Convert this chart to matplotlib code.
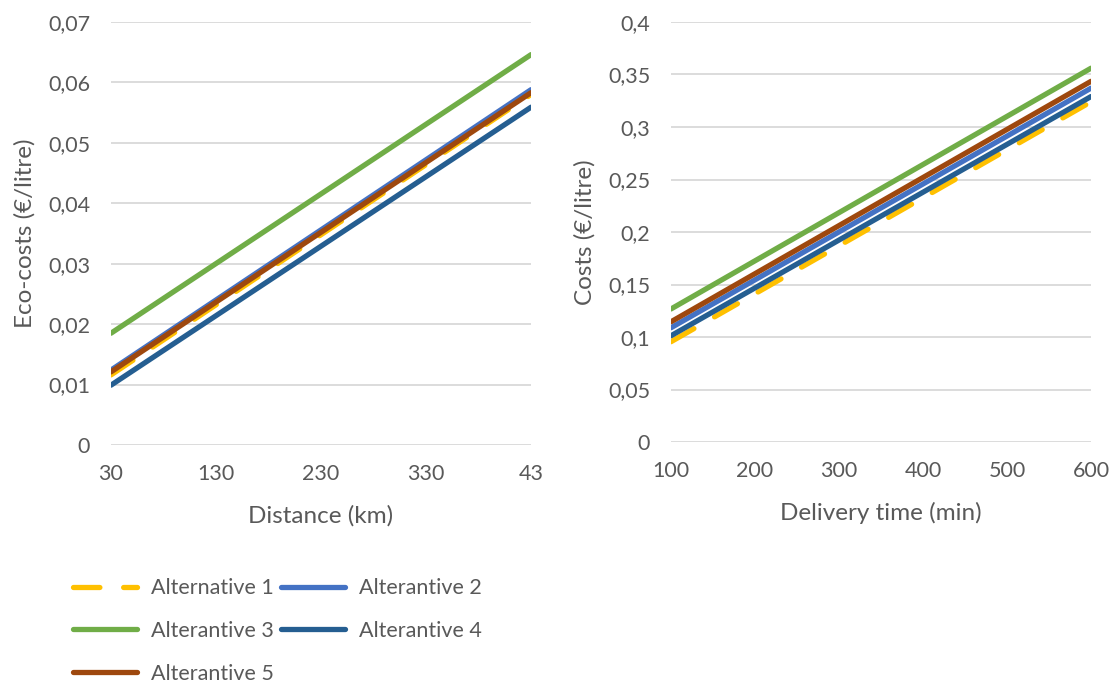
import numpy as np
import matplotlib.pyplot as plt
from matplotlib.ticker import FuncFormatter

plt.rcParams['font.family'] = ['Lato', 'DejaVu Sans']

names = ['Alternative 1', 'Alterantive 2', 'Alterantive 3', 'Alterantive 4', 'Alterantive 5']
colors = ['#FFC000', '#4472C4', '#70AD47', '#255E91', '#9E480E']

# left: eco-costs vs distance (start / end of each straight line)
dist = [30, 430]
eco = [
    [0.0116, 0.0580],
    [0.0124, 0.0588],
    [0.0185, 0.0646],
    [0.0099, 0.0559],
    [0.0121, 0.0583],
]

# right: costs vs delivery time
dtime = [100, 600]
cost = [
    [0.0955, 0.3240],
    [0.1088, 0.3370],
    [0.1267, 0.3560],
    [0.1012, 0.3290],
    [0.1145, 0.3435],
]

grey = '#595959'
comma = FuncFormatter(lambda v, p: ('%g' % round(v, 3)).replace('.', ','))

fig = plt.figure(figsize=(11.15, 6.85), dpi=100)
ax1 = fig.add_axes([111/1115, 1-445/685, 420/1115, 423/685])
ax2 = fig.add_axes([671/1115, 1-442/685, 420/1115, 420/685])

lines = []
for i in range(5):
    ls = (0, (5, 4.5)) if i == 0 else '-'
    l, = ax1.plot(dist, eco[i], color=colors[i], lw=3.8, ls=ls,
                  solid_capstyle='round', dash_capstyle='round', label=names[i])
    ax2.plot(dtime, cost[i], color=colors[i], lw=3.8, ls=ls,
             solid_capstyle='round', dash_capstyle='round')
    lines.append(l)

ax1.set_xlim(30, 430)
ax1.set_ylim(0, 0.07)
ax1.set_xticks([30, 130, 230, 330, 430])
ax1.set_xticklabels(['30', '130', '230', '330', '43'])
ax1.set_yticks(np.arange(0, 0.0701, 0.01))
ax1.set_xlabel('Distance (km)', fontsize=17.5, color=grey, labelpad=15)
ax1.set_ylabel('Eco-costs (€/litre)', fontsize=17.5, color=grey, labelpad=9)

ax2.set_xlim(100, 600)
ax2.set_ylim(0, 0.4)
ax2.set_xticks([100, 200, 300, 400, 500, 600])
ax2.set_yticks(np.arange(0, 0.401, 0.05))
ax2.set_xlabel('Delivery time (min)', fontsize=17.5, color=grey, labelpad=15)
ax2.set_ylabel('Costs (€/litre)', fontsize=17.5, color=grey, labelpad=9)

for ax in (ax1, ax2):
    ax.yaxis.set_major_formatter(comma)
    ax.grid(axis='y', color='#D9D9D9', lw=1.3)
    ax.set_axisbelow(True)
    for s in ax.spines.values():
        s.set_visible(False)
    ax.tick_params(length=0, labelsize=15.5, colors=grey)
    ax.tick_params(axis='y', pad=15)
    ax.tick_params(axis='x', pad=14)

order = [0, 2, 4, 1, 3]
fig.legend([lines[i] for i in order], [names[i] for i in order],
           ncol=2, loc='upper left', bbox_to_anchor=(54/1115, 1-559/685),
           frameon=False, fontsize=15.5, labelcolor=grey,
           handlelength=2.95, handletextpad=0.65, columnspacing=0.35,
           labelspacing=1.05)

fig.savefig('out.png', dpi=100)
